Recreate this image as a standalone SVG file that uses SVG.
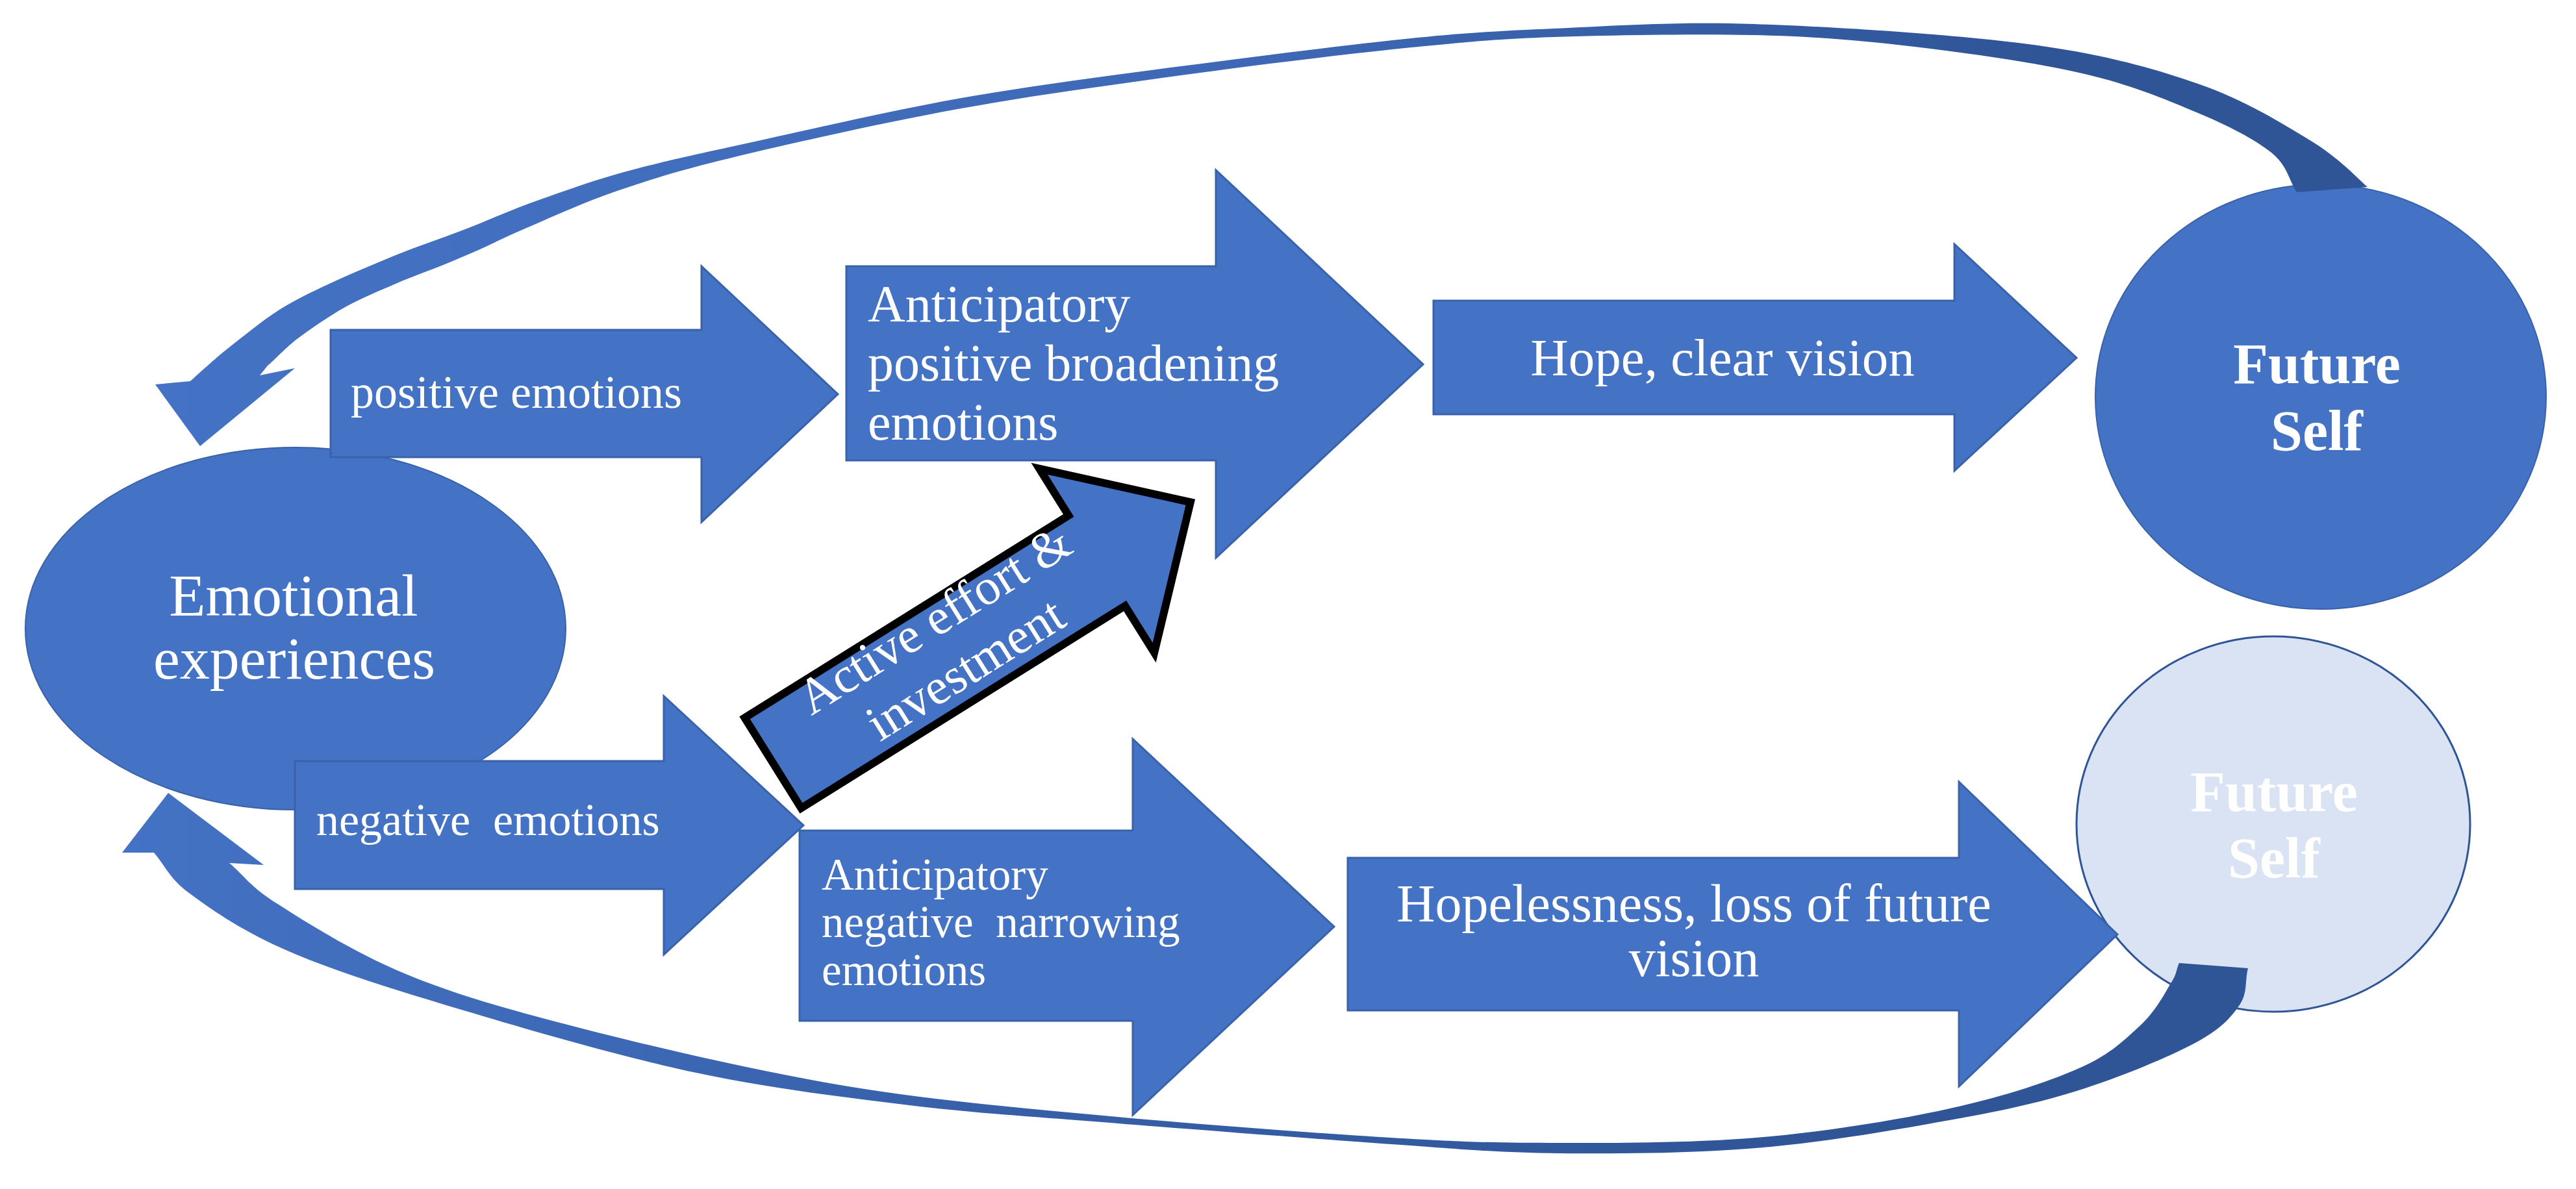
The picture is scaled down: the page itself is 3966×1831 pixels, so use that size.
<svg xmlns="http://www.w3.org/2000/svg" width="3966" height="1831" viewBox="0 0 3966 1831">
<style>
.blk{fill:#4472C4;stroke:#3A62AB;stroke-width:3}
.node{fill:#4472C4;stroke:#3A62AB;stroke-width:2}
.t{font-family:"Liberation Serif","Times New Roman",serif;fill:#FFFFFF;white-space:pre}
.b{font-weight:bold}
.act{fill:#4472C4;stroke:#000000;stroke-width:12;stroke-linejoin:miter}
</style>
<defs>
<linearGradient id="gTop" gradientUnits="userSpaceOnUse" x1="250" y1="0" x2="3650" y2="0">
<stop offset="0" stop-color="#4472C4"/>
<stop offset="0.5" stop-color="#3E68B5"/>
<stop offset="0.85" stop-color="#2F5597"/>
<stop offset="1" stop-color="#2F5597"/>
</linearGradient>
<linearGradient id="gBot" gradientUnits="userSpaceOnUse" x1="200" y1="0" x2="3470" y2="0">
<stop offset="0" stop-color="#4472C4"/>
<stop offset="0.4" stop-color="#3760A8"/>
<stop offset="0.8" stop-color="#2F5597"/>
<stop offset="1" stop-color="#2F5597"/>
</linearGradient>
</defs>
<rect width="3966" height="1831" fill="#FFFFFF"/>

<g id="emotional-experiences">
<ellipse class="node" cx="455" cy="968" rx="416" ry="279"/>
<text class="t" font-size="92" text-anchor="middle"><tspan x="452" y="948">Emotional</tspan><tspan x="453" y="1045">experiences</tspan></text>
</g>

<g id="future-self-positive">
<ellipse class="node" cx="3573" cy="611" rx="347" ry="327"/>
<text class="t b" font-size="88" text-anchor="middle"><tspan x="3567" y="590">Future</tspan><tspan x="3567" y="693">Self</tspan></text>
</g>

<g id="future-self-negative">
<ellipse cx="3500" cy="1269" rx="303" ry="289" fill="#DAE3F3" stroke="#2F5597" stroke-width="3"/>
<text class="t b" font-size="88" text-anchor="middle"><tspan x="3501" y="1249">Future</tspan><tspan x="3501" y="1351">Self</tspan></text>
</g>

<g id="connectors">
<g id="arrow-positive-emotions">
<path class="blk" d="M509,508 H1080 V410 L1290,607 L1080,804 V704 H509 Z"/>
<text class="t" font-size="72" x="540" y="628">positive emotions</text>
</g>
<g id="arrow-negative-emotions">
<path class="blk" d="M454,1172 H1022 V1072 L1237,1271 L1022,1470 V1369 H454 Z"/>
<text class="t" font-size="70" x="487" y="1286">negative  emotions</text>
</g>
<g id="arrow-broadening">
<path class="blk" d="M1303,410 H1872 V262 L2191,561 L1872,859 V709 H1303 Z"/>
<text class="t" font-size="80"><tspan x="1336" y="495">Anticipatory</tspan><tspan x="1336" y="586">positive broadening</tspan><tspan x="1336" y="677">emotions</tspan></text>
</g>
<g id="arrow-narrowing">
<path class="blk" d="M1231,1279 H1744 V1138 L2054,1427 L1744,1717 V1572 H1231 Z"/>
<text class="t" font-size="69"><tspan x="1265" y="1370">Anticipatory</tspan><tspan x="1265" y="1443">negative  narrowing</tspan><tspan x="1265" y="1517">emotions</tspan></text>
</g>
<g id="arrow-hope">
<path class="blk" d="M2207,463 H3009 V376 L3197,551 L3009,725 V638 H2207 Z"/>
<text class="t" font-size="81" x="2652" y="578" text-anchor="middle">Hope, clear vision</text>
</g>
<g id="arrow-hopelessness">
<path class="blk" d="M2075,1321 H3016 V1204 L3260,1439 L3016,1673 V1556 H2075 Z"/>
<text class="t" font-size="82" text-anchor="middle"><tspan x="2608" y="1419">Hopelessness, loss of future</tspan><tspan x="2608" y="1503">vision</tspan></text>
</g>
<g id="arrow-active-effort" transform="translate(1190,1175) rotate(-32)">
<path class="act" d="M0,-82 H588 V-167 L758,0 L588,167 V82 H0 Z"/>
<text class="t" font-size="78" text-anchor="middle"><tspan x="328" y="-30">Active effort &amp;</tspan><tspan x="328" y="60">investment</tspan></text>
</g>
<path id="curve-top" fill="url(#gTop)" d="M293,587 C303,578 331,552 354,534 C377,516 405,493 430,477 C456,461 477,451 507,437 C537,423 575,407 609,393 C643,379 677,368 711,355 C745,342 773,329 813,314 C853,300 897,283 950,268 C1003,253 1043,244 1130,225 C1217,206 1359,173 1474,152 C1589,132 1703,117 1818,102 C1933,87 2067,70 2163,60 C2259,50 2303,48 2392,44 C2482,40 2578,33 2700,37 C2822,41 3009,53 3123,68 C3237,83 3312,104 3384,129 C3456,154 3514,190 3558,217 C3601,243 3631,276 3645,288 L3536,296 C3523,276 3522,255 3497,235 C3472,215 3432,194 3384,174 C3336,154 3283,131 3210,114 C3137,97 3033,82 2948,72 C2863,62 2793,56 2700,54 C2607,52 2481,54 2392,57 C2302,60 2259,65 2163,74 C2067,84 1933,100 1818,116 C1703,132 1589,147 1474,168 C1359,189 1217,221 1130,242 C1043,263 1003,276 950,294 C897,312 853,333 813,350 C773,367 745,382 711,396 C677,411 639,424 609,437 C579,450 559,458 533,472 C508,486 477,507 456,523 C436,539 418,559 412,563 L400,578 L454,567 L308,687 L239,592 Z"/>
<path id="curve-bottom" fill="url(#gBot)" d="M237,1313 C256,1335 260,1353 295,1378 C330,1404 377,1436 447,1466 C517,1496 610,1525 714,1556 C818,1587 958,1628 1072,1652 C1186,1676 1292,1689 1400,1702 C1508,1715 1597,1720 1721,1730 C1845,1740 2029,1754 2142,1762 C2255,1770 2306,1775 2400,1776 C2494,1777 2606,1776 2703,1768 C2800,1760 2902,1743 2984,1728 C3066,1714 3129,1701 3194,1681 C3259,1661 3334,1630 3376,1608 C3418,1586 3433,1569 3447,1549 C3461,1530 3456,1510 3461,1491 L3355,1483 C3350,1494 3352,1500 3341,1516 C3331,1533 3317,1560 3292,1582 C3268,1604 3245,1627 3194,1648 C3143,1670 3066,1694 2984,1711 C2902,1728 2800,1744 2703,1752 C2606,1760 2494,1760 2400,1760 C2307,1760 2255,1759 2142,1752 C2029,1745 1861,1733 1721,1720 C1581,1707 1438,1695 1300,1672 C1162,1649 1006,1612 893,1583 C781,1554 702,1532 625,1500 C548,1468 474,1422 429,1393 C384,1365 378,1350 353,1329 L406,1332 L259,1221 L188,1313 Z"/>
</g>
</svg>
